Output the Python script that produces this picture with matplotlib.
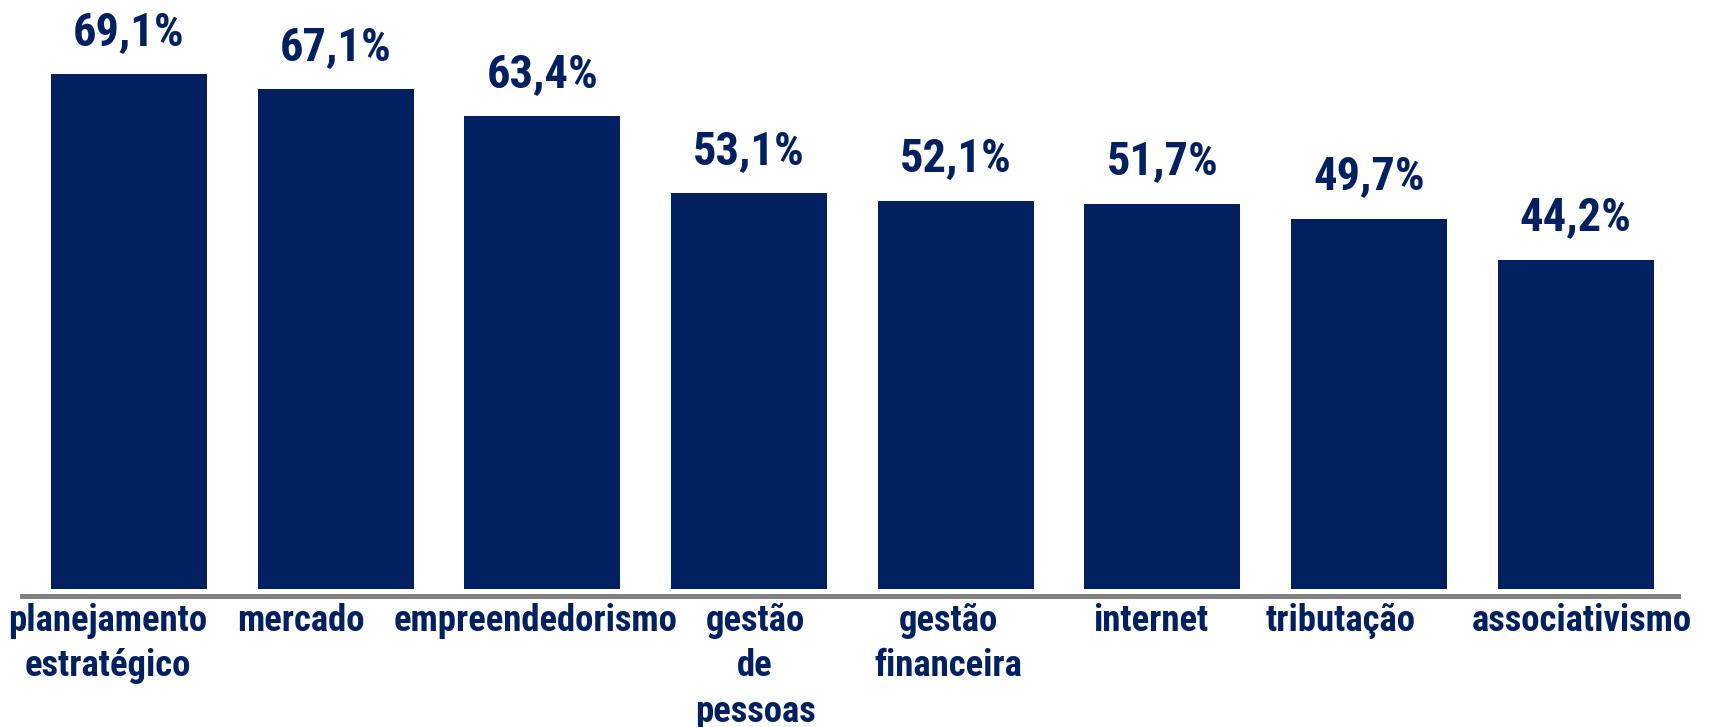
import matplotlib
matplotlib.use('Agg')
import matplotlib.pyplot as plt
from matplotlib import font_manager
from matplotlib.transforms import ScaledTranslation

# data
categories = ['planejamento\nestratégico', 'mercado', 'empreendedorismo', 'gestão\nde\npessoas',
              'gestão\nfinanceira', 'internet', 'tributação', 'associativismo']
values = [69.1, 67.1, 63.4, 53.1, 52.1, 51.7, 49.7, 44.2]
value_labels = ['69,1%', '67,1%', '63,4%', '53,1%', '52,1%', '51,7%', '49,7%', '44,2%']

navy = '#00205F'
gray = '#808080'

# the category text boxes in the original are not quite centred under the bars (pixels)
label_shift = [-21, -35, -7, 6, -7, -12, -28, 6.5]

# narrow sans close to Arial Narrow, if one is installed
names = {f.name for f in font_manager.fontManager.ttflist}
fam = [n for n in ['Liberation Sans Narrow', 'Roboto Condensed', 'Archivo Narrow',
                   'Pragati Narrow'] if n in names][:1] + ['DejaVu Sans']
plt.rcParams['font.family'] = fam

fig = plt.figure(figsize=(17.09, 7.27), dpi=100)
ax = fig.add_axes([20 / 1709, 128 / 727, 1661 / 1709, 569 / 727])

x = range(len(values))
ax.bar(x, values, width=0.755, color=navy, zorder=2)
ax.axhline(-1.0, color=gray, linewidth=3.6, zorder=3)

for i, (v, lab) in enumerate(zip(values, value_labels)):
    ax.annotate(lab, (i, v), xytext=(0, 21), textcoords='offset points',
                ha='center', va='baseline', fontsize=33.5, fontweight='bold', color=navy)

ax.set_xlim(-0.527, 7.509)
ax.set_ylim(-1.34, 75)
ax.set_xticks(list(x))
ax.set_xticklabels(categories, fontsize=26.5, fontweight='bold', color=navy, linespacing=1.33)
ax.tick_params(axis='x', length=0, pad=3)
for lbl, dx in zip(ax.get_xticklabels(), label_shift):
    lbl.set_transform(lbl.get_transform() + ScaledTranslation(dx / 100, 0, fig.dpi_scale_trans))
ax.set_yticks([])
for s in ax.spines.values():
    s.set_visible(False)

fig.savefig('out.png', dpi=100)
